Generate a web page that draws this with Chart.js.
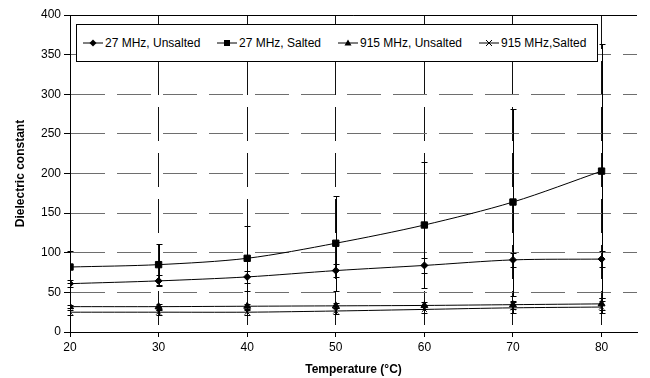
<!DOCTYPE html>
<html>
<head>
<meta charset="utf-8">
<script src="https://cdn.jsdelivr.net/npm/chart.js@4/dist/chart.umd.min.js"></script>
<style>
  body { margin: 0; background: #fff; }
  #wrap { position: relative; width: 650px; height: 378px; }
  #legendBox {
    position: absolute; left: 76px; top: 24px; width: 520px; height: 36px;
    border: 1px solid #000; background: #fff;
    font-family: 'Liberation Sans', Arial, sans-serif; font-size: 12px; color: #000;
  }
  .item { position: absolute; top: 11px; display: flex; align-items: center; white-space: nowrap; line-height: 14px; }
  .item svg { margin-right: 2px; }
</style>
</head>
<body>
<div id="wrap">
  <canvas id="chartCanvas" width="650" height="378"></canvas>
  <div id="legendBox"></div>
</div>
<script>
const temps = [20, 30, 40, 50, 60, 70, 80];
const xTicks = [20, 30, 40, 50, 60, 70, 80];

const unsalted27 = [61, 64.5, 69.5, 77.5, 84, 91, 92];
const salted27 = [82, 85, 93, 112, 135, 164, 203];
const unsalted915 = [32, 32, 32.5, 33, 33.5, 34.5, 35.5];
const salted915 = [25, 25, 25, 26.5, 28.5, 30.5, 31.5];

// error bar half-lengths
const unsalted27Err = [4, 7, 8, 8, 9, 9, 10];
const salted27Err = [20, 26, 41, 60, 80, 118, 160];
const unsalted915Err = [2, 3, 3, 3, 4, 5, 8];
const salted915Err = [3, 3, 3, 4, 5, 7, 8];

const seriesLabels = ['27 MHz, Unsalted', '27 MHz, Salted', '915 MHz, Unsalted', '915 MHz,Salted'];
const seriesValues = [unsalted27, salted27, unsalted915, salted915];
const seriesErrors = [unsalted27Err, salted27Err, unsalted915Err, salted915Err];
const markerStyles = ['rectRot', 'rect', 'triangle', 'crossRot'];
const markerSizes = [3.5, 4.5, 4, 3.5];
const legendOffsets = [6, 140, 261, 402];

const errorBars = {
  id: 'errorBars',
  beforeDatasetsDraw(chart) {
    const ctx = chart.ctx;
    const xs = chart.scales.x;
    const ys = chart.scales.y;
    ctx.save();
    ctx.strokeStyle = '#000';
    ctx.lineWidth = 1;
    chart.data.datasets.forEach((ds) => {
      ds.data.forEach((p, i) => {
        const e = ds.errors[i];
        const x = Math.round(xs.getPixelForValue(p.x)) + 0.5;
        const yTop = Math.round(ys.getPixelForValue(p.y + e)) + 0.5;
        const yBot = Math.round(ys.getPixelForValue(p.y - e)) + 0.5;
        ctx.beginPath();
        ctx.moveTo(x, yTop);
        ctx.lineTo(x, yBot);
        ctx.moveTo(x - 3, yTop);
        ctx.lineTo(x + 3, yTop);
        ctx.moveTo(x - 3, yBot);
        ctx.lineTo(x + 3, yBot);
        ctx.stroke();
      });
    });
    ctx.restore();
  },
  afterDraw(chart) {
    // solid top edge of the plot area
    const a = chart.chartArea;
    const ctx = chart.ctx;
    ctx.save();
    ctx.strokeStyle = '#000';
    ctx.lineWidth = 1;
    ctx.beginPath();
    ctx.moveTo(a.left, Math.round(a.top) + 0.5);
    ctx.lineTo(a.right, Math.round(a.top) + 0.5);
    ctx.stroke();
    ctx.restore();
  },
};

const datasets = seriesLabels.map((label, k) => ({
  label: label,
  data: temps.map((t, i) => ({ x: t, y: seriesValues[k][i] })),
  errors: seriesErrors[k],
  borderColor: '#000',
  backgroundColor: '#000',
  borderWidth: 1,
  pointStyle: markerStyles[k],
  pointRadius: markerSizes[k],
  pointBorderWidth: 1,
  tension: 0.3,
  fill: false,
}));

const ctx = document.getElementById('chartCanvas').getContext('2d');
const chart = new Chart(ctx, {
  type: 'line',
  data: { datasets: datasets },
  plugins: [errorBars],
  options: {
    responsive: false,
    animation: false,
    layout: { padding: { top: 15, right: 13, bottom: 0, left: 0 } },
    plugins: {
      legend: { display: false },
      tooltip: { enabled: false },
    },
    scales: {
      x: {
        type: 'linear',
        min: 20,
        max: 84,
        afterBuildTicks: (axis) => {
          axis.ticks = xTicks.map((v) => ({ value: v }));
        },
        afterFit: (axis) => {
          axis.height = 46;
        },
        grid: {
          color: '#111',
          lineWidth: 1,
          tickColor: '#000',
          tickLength: 5,
          tickBorderDash: [],
        },
        border: { color: '#000', width: 1, dash: [34, 12] },
        ticks: {
          color: '#000',
          padding: 3,
          maxRotation: 0,
          font: { family: "'Liberation Sans', Arial", size: 12 },
        },
        title: {
          display: true,
          text: 'Temperature (°C)',
          color: '#000',
          padding: { top: 0, bottom: 1 },
          font: { family: "'Liberation Sans', Arial", size: 12, weight: 'bold' },
        },
      },
      y: {
        min: 0,
        max: 400,
        afterFit: (axis) => {
          axis.width = 70;
        },
        grid: {
          color: '#6e6e6e',
          lineWidth: 1,
          tickColor: '#000',
          tickLength: 6,
          tickBorderDash: [],
        },
        border: { color: '#000', width: 1, dash: [34, 12] },
        ticks: {
          stepSize: 50,
          color: '#000',
          padding: 3,
          font: { family: "'Liberation Sans', Arial", size: 12 },
        },
        title: {
          display: true,
          text: 'Dielectric constant',
          color: '#000',
          padding: { top: 13, bottom: 0 },
          font: { family: "'Liberation Sans', Arial", size: 12, weight: 'bold' },
        },
      },
    },
  },
});

// legend with line + marker swatches
function markerSvg(style) {
  let m = '';
  if (style === 'rectRot') m = '<polygon points="10,1.5 13.5,5 10,8.5 6.5,5" fill="#000"/>';
  if (style === 'rect') m = '<rect x="7" y="2" width="6" height="6" fill="#000"/>';
  if (style === 'triangle') m = '<polygon points="10,1.5 13.5,7.5 6.5,7.5" fill="#000"/>';
  if (style === 'crossRot') m = '<path d="M7,2 L13,8 M13,2 L7,8" stroke="#000" stroke-width="1"/>';
  return '<svg width="20" height="10"><line x1="0" y1="5" x2="20" y2="5" stroke="#000" stroke-width="1"/>' + m + '</svg>';
}
const legendBox = document.getElementById('legendBox');
seriesLabels.forEach((label, k) => {
  const item = document.createElement('div');
  item.className = 'item';
  item.style.left = legendOffsets[k] + 'px';
  item.innerHTML = markerSvg(markerStyles[k]) + '<span>' + label + '</span>';
  legendBox.appendChild(item);
});
</script>
</body>
</html>
